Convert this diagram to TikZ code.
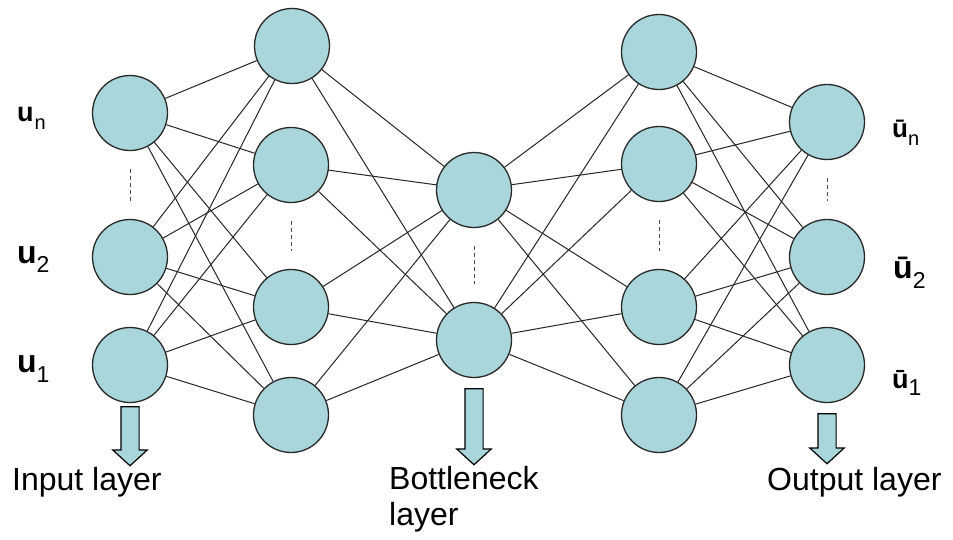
\documentclass[tikz,border=0pt]{standalone}
\usepackage{fontspec}
\setmainfont{Liberation Sans}
\usetikzlibrary{shapes.arrows, positioning}
\definecolor{neuronfill}{RGB}{168,214,218}
\definecolor{neuronline}{RGB}{40,40,40}
\tikzstyle{neuron} = [circle, minimum size=75pt, inner sep=0pt, draw=neuronline, line width=1.3pt, fill=neuronfill]
\tikzstyle{edge} = [line width=1pt, black!85]
\tikzstyle{gap} = [dash pattern=on 4pt off 3pt, line width=0.8pt, black!70, shorten <=18pt, shorten >=18pt]
\tikzstyle{layerarrow} = [single arrow, draw=black, line width=1.2pt, fill=neuronfill, inner xsep=0pt, inner ysep=8.5pt, single arrow head extend=8pt, single arrow tip angle=95, minimum width=33pt, rotate=-90, anchor=tail]
\tikzstyle{unitlabel} = [anchor=base west, inner sep=0pt]
\tikzstyle{layerlabel} = [inner sep=0pt, font=\fontsize{32}{36}\selectfont, align=left]

\begin{document}
\begin{tikzpicture}[x=1pt, y=-1pt]

\useasboundingbox (0,0) rectangle (953,539);

% Input layer
\node[neuron] (inp_n) at (130,113) {};
\node[neuron] (inp_2) at (130,257) {};
\node[neuron] (inp_1) at (130,365) {};

% First hidden layer
\node[neuron] (hid1_a) at (292,46) {};
\node[neuron] (hid1_b) at (291,165) {};
\node[neuron] (hid1_c) at (291,307) {};
\node[neuron] (hid1_d) at (291,415) {};

% Bottleneck layer
\node[neuron] (bott_a) at (474,190) {};
\node[neuron] (bott_b) at (474,340) {};

% Second hidden layer
\node[neuron] (hid2_a) at (659,52) {};
\node[neuron] (hid2_b) at (659,164) {};
\node[neuron] (hid2_c) at (659,307) {};
\node[neuron] (hid2_d) at (659,415) {};

% Output layer
\node[neuron] (out_n) at (827,122) {};
\node[neuron] (out_2) at (827,257) {};
\node[neuron] (out_1) at (827,365) {};

% Input to first hidden
\draw[edge] (inp_n) -- (hid1_a) (inp_n) -- (hid1_b) (inp_n) -- (hid1_c) (inp_n) -- (hid1_d);
\draw[edge] (inp_2) -- (hid1_a) (inp_2) -- (hid1_b) (inp_2) -- (hid1_c) (inp_2) -- (hid1_d);
\draw[edge] (inp_1) -- (hid1_a) (inp_1) -- (hid1_b) (inp_1) -- (hid1_c) (inp_1) -- (hid1_d);

% First hidden to bottleneck
\draw[edge] (hid1_a) -- (bott_a) (hid1_a) -- (bott_b);
\draw[edge] (hid1_b) -- (bott_a) (hid1_b) -- (bott_b);
\draw[edge] (hid1_c) -- (bott_a) (hid1_c) -- (bott_b);
\draw[edge] (hid1_d) -- (bott_a) (hid1_d) -- (bott_b);

% Bottleneck to second hidden
\draw[edge] (bott_a) -- (hid2_a) (bott_a) -- (hid2_b) (bott_a) -- (hid2_c) (bott_a) -- (hid2_d);
\draw[edge] (bott_b) -- (hid2_a) (bott_b) -- (hid2_b) (bott_b) -- (hid2_c) (bott_b) -- (hid2_d);

% Second hidden to output
\draw[edge] (hid2_a) -- (out_n) (hid2_a) -- (out_2) (hid2_a) -- (out_1);
\draw[edge] (hid2_b) -- (out_n) (hid2_b) -- (out_2) (hid2_b) -- (out_1);
\draw[edge] (hid2_c) -- (out_n) (hid2_c) -- (out_2) (hid2_c) -- (out_1);
\draw[edge] (hid2_d) -- (out_n) (hid2_d) -- (out_2) (hid2_d) -- (out_1);

% Omitted units
\draw[gap] (inp_n) -- (inp_2);
\draw[gap] (hid1_b) -- (hid1_c);
\draw[gap] (bott_a) -- (bott_b);
\draw[gap] (hid2_b) -- (hid2_c);
\draw[gap] (out_n) -- (out_2);

% Unit labels
\node[unitlabel] (lab_un) at (17,121) {{\fontsize{27}{27}\selectfont\bfseries u}\kern1pt\raisebox{-8pt}{\fontsize{20}{20}\selectfont n}};
\node[unitlabel] (lab_u2) at (17,263) {{\fontsize{32}{32}\selectfont\bfseries u}\raisebox{-9pt}{\fontsize{23}{23}\selectfont 2}};
\node[unitlabel] (lab_u1) at (17,372) {{\fontsize{32}{32}\selectfont\bfseries u}\raisebox{-10pt}{\fontsize{23}{23}\selectfont 1}};
\node[unitlabel] (lab_on) at (892,137) {{\fontsize{26}{26}\selectfont\bfseries ū}\raisebox{-8pt}{\fontsize{20}{20}\selectfont n}};
\node[unitlabel] (lab_o2) at (893,278) {{\fontsize{32}{32}\selectfont\bfseries ū}\raisebox{-10pt}{\fontsize{23}{23}\selectfont 2}};
\node[unitlabel] (lab_o1) at (892,388) {{\fontsize{27}{27}\selectfont\bfseries ū}\raisebox{-7pt}{\fontsize{23}{23}\selectfont 1}};

% Layer arrows
\node[layerarrow, minimum height=59pt] (arr_inp) at ([yshift=-3pt]inp_1.south) {};
\node[layerarrow, minimum height=76pt] (arr_bott) at ([yshift=-10pt]bott_b.south) {};
\node[layerarrow, minimum height=50pt] (arr_out) at ([yshift=-10pt]out_1.south) {};

% Layer names
\node[layerlabel, anchor=base west] (name_inp) at (12,490) {Input layer};
\node[layerlabel, anchor=north west] (name_bott) at (389,466) {Bottleneck\\layer};
\node[layerlabel, anchor=base west] (name_out) at (767,490) {Output layer};

\end{tikzpicture}
\end{document}
